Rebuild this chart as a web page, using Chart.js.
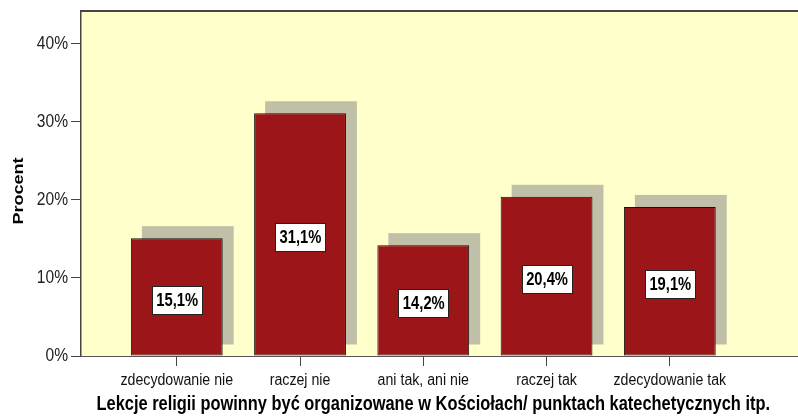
<!DOCTYPE html>
<html>
<head>
<meta charset="utf-8">
<script src="https://cdn.jsdelivr.net/npm/chart.js@4/dist/chart.umd.min.js"></script>
<style>
  html, body { margin: 0; padding: 0; background: #fff; }
  canvas { display: block; }
</style>
</head>
<body>
<canvas id="chart" width="798" height="418"></canvas>
<script>
const categories = ['zdecydowanie nie', 'raczej nie', 'ani tak, ani nie', 'raczej tak', 'zdecydowanie tak'];
const percents = [15.1, 31.1, 14.2, 20.4, 19.1];
const yTicks = [0, 10, 20, 30, 40];
const xTitle = 'Lekcje religii powinny być organizowane w Kościołach/ punktach katechetycznych itp.';
const yTitle = 'Procent';

const SANS = '"Liberation Sans", Arial, sans-serif';
const SQUEEZE = 0.82; // narrow look for all labels

function fmt(v) {
    return v.toFixed(1).replace('.', ',') + '%';
}

// text squeezed horizontally around its anchor
function narrowText(ctx, txt, x, y, font, align) {
    ctx.save();
    ctx.font = font;
    ctx.textAlign = align;
    ctx.textBaseline = 'middle';
    ctx.translate(x, y);
    ctx.scale(SQUEEZE, 1);
    ctx.fillText(txt, 0, 0);
    ctx.restore();
}

// plot background, top frame line, bar shadows, value boxes, tick labels and axis titles
const frame = {
    id: 'frame',
    beforeDraw(chart) {
        const { ctx, chartArea: a } = chart;
        ctx.save();
        ctx.fillStyle = '#ffffcc';
        ctx.fillRect(a.left, a.top, a.right - a.left, a.bottom - a.top);
        ctx.restore();
    },
    beforeDatasetsDraw(chart) {
        const { ctx } = chart;
        ctx.save();
        ctx.fillStyle = '#c0c0a8';
        chart.getDatasetMeta(0).data.forEach(bar => {
            const p = bar.getProps(['x', 'y', 'base', 'width'], true);
            ctx.fillRect(p.x - p.width / 2 + 11, p.y - 12, p.width, p.base - p.y + 1);
        });
        ctx.restore();
    },
    afterDatasetsDraw(chart) {
        const { ctx, chartArea: a } = chart;
        ctx.save();
        ctx.strokeStyle = '#444';
        ctx.lineWidth = 2;
        ctx.beginPath();
        ctx.moveTo(a.left, a.top);
        ctx.lineTo(a.right, a.top);
        ctx.stroke();

        const font = 'bold 18px ' + SANS;
        ctx.font = font;
        chart.getDatasetMeta(0).data.forEach((bar, i) => {
            const p = bar.getProps(['x', 'y', 'base'], true);
            const txt = fmt(percents[i]);
            const w = Math.round(ctx.measureText(txt).width * SQUEEZE + 8);
            const h = 28;
            const cy = Math.round((p.y + p.base) / 2 + 3);
            const left = Math.round(p.x - w / 2);
            ctx.fillStyle = '#fff';
            ctx.fillRect(left, cy - h / 2, w, h);
            ctx.strokeStyle = '#222';
            ctx.lineWidth = 1;
            ctx.strokeRect(left + 0.5, cy - h / 2 + 0.5, w, h);
            ctx.fillStyle = '#000';
            narrowText(ctx, txt, p.x + 0.5, cy + 1, font, 'center');
        });
        ctx.restore();
    },
    afterDraw(chart) {
        const { ctx, scales } = chart;
        const x = scales.x;
        const y = scales.y;
        ctx.save();
        ctx.fillStyle = '#111';
        categories.forEach((c, i) => {
            narrowText(ctx, c, x.getPixelForValue(i), 380, '17.3px ' + SANS, 'center');
        });
        ctx.fillStyle = '#222';
        yTicks.forEach(v => {
            narrowText(ctx, v + '%', 68, y.getPixelForValue(v), '19px ' + SANS, 'right');
        });

        ctx.fillStyle = '#000';
        const cx = (x.getPixelForValue(-0.5) + x.getPixelForValue(categories.length - 0.5)) / 2 + 10;
        narrowText(ctx, xTitle, cx, 404, 'bold 20px ' + SANS, 'center');

        ctx.font = 'bold 18px ' + SANS;
        ctx.textAlign = 'center';
        ctx.textBaseline = 'middle';
        ctx.translate(19, 191);
        ctx.rotate(-Math.PI / 2);
        ctx.scale(1, SQUEEZE);
        ctx.fillText(yTitle, 0, 0);
        ctx.restore();
    }
};

new Chart(document.getElementById('chart'), {
    type: 'bar',
    data: {
        datasets: [{
            data: percents.map((v, i) => ({ x: i, y: v })),
            backgroundColor: '#9c1519',
            borderColor: '#111',
            borderWidth: 1,
            borderSkipped: false,
            barPercentage: 0.745,
            categoryPercentage: 1
        }]
    },
    options: {
        responsive: false,
        animation: false,
        layout: { padding: { top: 11, left: 0, right: 0, bottom: 0 } },
        plugins: {
            legend: { display: false },
            tooltip: { enabled: false }
        },
        scales: {
            x: {
                type: 'linear',
                offset: false,
                min: -0.777,
                max: 5.04,
                afterBuildTicks: s => { s.ticks = categories.map((_, i) => ({ value: i })); },
                afterFit: s => { s.height = 62; },
                ticks: { display: false },
                grid: { offset: false, drawOnChartArea: false, tickLength: 10, color: '#444' },
                border: { color: '#555', width: 1 }
            },
            y: {
                min: 0,
                max: 44.2,
                afterBuildTicks: s => { s.ticks = yTicks.map(v => ({ value: v })); },
                afterFit: s => { s.width = 81; },
                ticks: { display: false },
                grid: { drawOnChartArea: false, tickLength: 10, color: '#444' },
                border: { color: '#444', width: 1.5 }
            }
        }
    },
    plugins: [frame]
});
</script>
</body>
</html>
